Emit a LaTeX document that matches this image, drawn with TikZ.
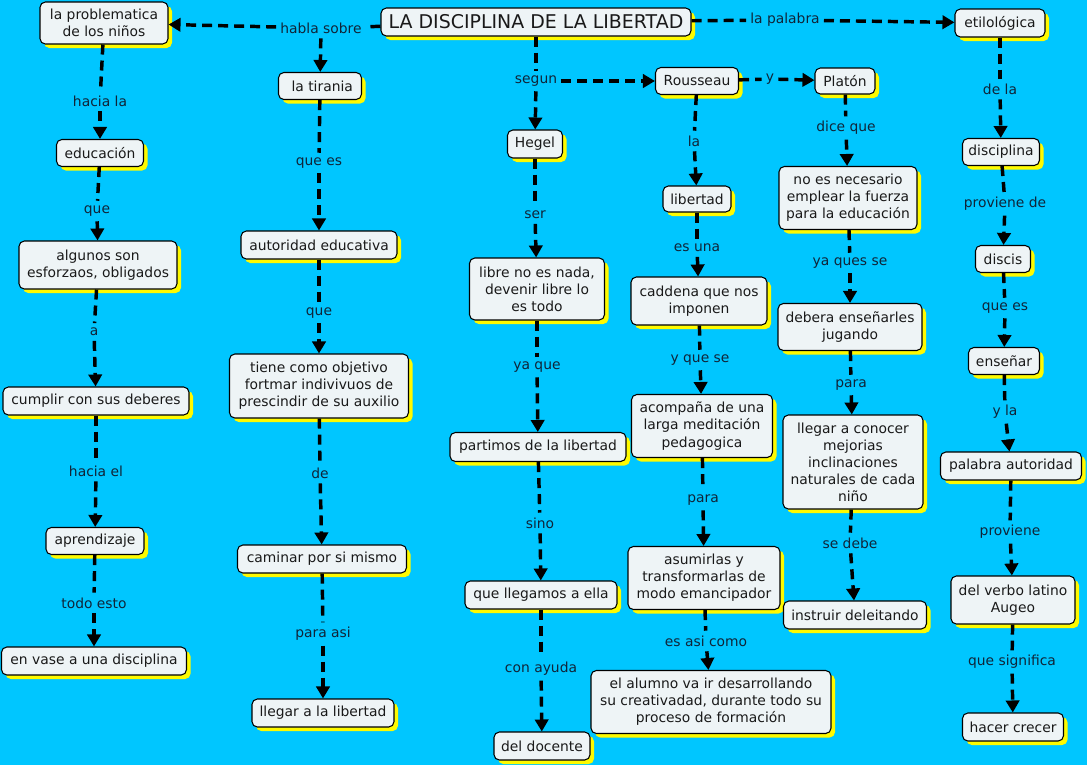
\documentclass[tikz,border=0pt]{standalone}
\usepackage{fontspec}
\setmainfont{DejaVu Sans}
\usetikzlibrary{arrows.meta,shadows}
\definecolor{bg}{RGB}{0,198,255}
\definecolor{nodefill}{RGB}{238,244,246}
\definecolor{labtxt}{RGB}{16,36,56}
\definecolor{shad}{RGB}{255,250,0}
\newcommand\cbx[5]{\node[cbox, minimum width=#3*0.75pt, minimum height=#4*0.75pt] (#1) at #2 {#5};}
\newcommand\clab[3]{\node[lab] (#1) at #2 {#3};}
\begin{document}
\begin{tikzpicture}[x=0.75pt,y=-0.75pt,
 cbox/.style={draw=black, line width=0.8pt, fill=nodefill, rounded corners=4pt, align=center,
   font=\fontsize{10.4}{12.8}\selectfont, text=black!90, inner sep=1pt,
   drop shadow={shadow xshift=3pt, shadow yshift=-3pt, fill=shad, opacity=1}},
 lab/.style={fill=bg, inner xsep=3pt, inner ysep=3.5pt, font=\fontsize{10.4}{12}\selectfont, text=labtxt},
 link/.style={line width=2.6pt, dash pattern=on 7.5pt off 4.5pt},
 arr/.style={link, -{Triangle[length=9pt,width=10pt]}}]
\useasboundingbox (0,0) rectangle (1087,765);
\fill[bg] (0,0) rectangle (1087,765);
% nodes
\cbx{prob}{(104,23)}{128}{42}{la problematica\\de los niños}
\node[cbox, minimum width=310*0.75pt, minimum height=28*0.75pt, font=\fontsize{14.2}{16}\selectfont] (main) at (536,22) {LA DISCIPLINA DE LA LIBERTAD};
\cbx{etil}{(1000,23)}{90}{28}{etilológica}
\cbx{tir}{(320,86)}{83}{27}{\ la tirania}
\cbx{rou}{(697,81)}{83}{27}{Rousseau}
\cbx{pla}{(845,81)}{60}{26}{Platón}
\cbx{heg}{(535,144)}{55}{28}{Hegel}
\cbx{edu}{(100,153)}{87}{27}{educación}
\cbx{dis}{(1001,152)}{77}{27}{disciplina}
\cbx{lib}{(697,199)}{68}{26}{libertad}
\cbx{noes}{(848,198)}{138}{63}{no es necesario\\emplear la fuerza\\para la educación}
\cbx{aut}{(319,245)}{156}{28}{autoridad educativa}
\cbx{alg}{(98,265)}{158}{48}{algunos son\\esforzaos, obligados}
\cbx{discis}{(1003,259)}{55}{27}{discis}
\cbx{libre}{(537,289)}{135}{62}{libre no es nada,\\devenir libre lo\\es todo}
\cbx{cad}{(699,301)}{136}{48}{caddena que nos\\imponen}
\cbx{deb}{(850,327)}{144}{47}{debera enseñarles\\jugando}
\cbx{ens}{(1004,361)}{71}{27}{enseñar}
\cbx{tiene}{(319,386)}{179}{64}{tiene como objetivo\\fortmar indivivuos de\\prescindir de su auxilio}
\cbx{cum}{(96,401)}{186}{28}{cumplir con sus deberes}
\cbx{aco}{(702,426)}{141}{63}{acompaña de una\\larga meditación\\pedagogica}
\cbx{lleg}{(853,462)}{140}{94}{llegar a conocer\\mejorias\\inclinaciones\\naturales de cada\\niño}
\cbx{part}{(538,447)}{176}{29}{partimos de la libertad}
\cbx{pal}{(1011,466)}{141}{28}{palabra autoridad}
\cbx{apr}{(95,541)}{98}{27}{aprendizaje}
\cbx{cam}{(322,559)}{169}{28}{caminar por si mismo}
\cbx{asu}{(704,578)}{152}{63}{asumirlas y\\transformarlas de\\modo emancipador}
\cbx{qll}{(541,595)}{152}{28}{que llegamos a ella}
\cbx{ins}{(855,615)}{143}{28}{instruir deleitando}
\cbx{ver}{(1013,600)}{124}{48}{del verbo latino\\Augeo}
\cbx{env}{(94,661)}{185}{28}{en vase a una disciplina}
\cbx{alu}{(711,702)}{240}{63}{el alumno va ir desarrollando\\su creativadad, durante todo su\\proceso de formación}
\cbx{lll}{(323,713)}{142}{28}{llegar a la libertad}
\cbx{hac}{(1013,727)}{101}{28}{hacer crecer}
\cbx{doc}{(542,746)}{96}{28}{del docente}
% labels
\clab{lhab}{(321,28)}{habla sobre}
\clab{lpal}{(785,20)}{la palabra}
\clab{lseg}{(536,81)}{segun}
\clab{ly}{(770,79)}{y}
\clab{l1}{(100,101)}{hacia la}
\clab{l2}{(97,211)}{que}
\clab{l3}{(94,332)}{a}
\clab{l4}{(96,471)}{hacia el}
\clab{l5}{(94,603)}{todo esto}
\clab{t1}{(319,163)}{que es}
\clab{t2}{(319,313)}{que}
\clab{t3}{(320,473)}{de}
\clab{t4}{(323,634)}{para asi}
\clab{h1}{(535,215)}{ser}
\clab{h2}{(537,367)}{ya que}
\clab{h3}{(540,523)}{sino}
\clab{h4}{(541,669)}{con ayuda}
\clab{r1}{(694,141)}{la}
\clab{r2}{(697,248)}{es una}
\clab{r3}{(700,360)}{y que se}
\clab{r4}{(703,500)}{para}
\clab{r5}{(706,641)}{es asi como}
\clab{p1}{(846,128)}{dice que}
\clab{p2}{(850,263)}{ya ques se}
\clab{p3}{(851,385)}{para}
\clab{p4}{(850,543)}{se debe}
\clab{e1}{(1000,89)}{de la}
\clab{e2}{(1005,204)}{proviene de}
\clab{e3}{(1005,308)}{que es}
\clab{e4}{(1005,412)}{y la}
\clab{e5}{(1010,532)}{proviene}
\clab{e6}{(1012,662)}{que significa}
% top connections
\draw[link] (main) -- (lhab);
\draw[arr] (lhab) -- (prob);
\draw[arr] (lhab) -- (tir);
\draw[link] (main) -- (lpal);
\draw[arr] (lpal) -- (etil);
\draw[link] (main) -- (lseg);
\draw[arr] (lseg) -- (heg);
\draw[arr] (lseg) -- (rou);
\draw[link] (rou) -- (ly);
\draw[arr] (ly) -- (pla);
% column 1
\draw[link] (prob) -- (l1); \draw[arr] (l1) -- (edu);
\draw[link] (edu) -- (l2); \draw[arr] (l2) -- (alg);
\draw[link] (alg) -- (l3); \draw[arr] (l3) -- (cum);
\draw[link] (cum) -- (l4); \draw[arr] (l4) -- (apr);
\draw[link] (apr) -- (l5); \draw[arr] (l5) -- (env);
% column 2
\draw[link] (tir) -- (t1); \draw[arr] (t1) -- (aut);
\draw[link] (aut) -- (t2); \draw[arr] (t2) -- (tiene);
\draw[link] (tiene) -- (t3); \draw[arr] (t3) -- (cam);
\draw[link] (cam) -- (t4); \draw[arr] (t4) -- (lll);
% column 3
\draw[link] (heg) -- (h1); \draw[arr] (h1) -- (libre);
\draw[link] (libre) -- (h2); \draw[arr] (h2) -- (part);
\draw[link] (part) -- (h3); \draw[arr] (h3) -- (qll);
\draw[link] (qll) -- (h4); \draw[arr] (h4) -- (doc);
% column 4
\draw[link] (rou) -- (r1); \draw[arr] (r1) -- (lib);
\draw[link] (lib) -- (r2); \draw[arr] (r2) -- (cad);
\draw[link] (cad) -- (r3); \draw[arr] (r3) -- (aco);
\draw[link] (aco) -- (r4); \draw[arr] (r4) -- (asu);
\draw[link] (asu) -- (r5); \draw[arr] (r5) -- (alu);
% column 5
\draw[link] (pla) -- (p1); \draw[arr] (p1) -- (noes);
\draw[link] (noes) -- (p2); \draw[arr] (p2) -- (deb);
\draw[link] (deb) -- (p3); \draw[arr] (p3) -- (lleg);
\draw[link] (lleg) -- (p4); \draw[arr] (p4) -- (ins);
% column 6
\draw[link] (etil) -- (e1); \draw[arr] (e1) -- (dis);
\draw[link] (dis) -- (e2); \draw[arr] (e2) -- (discis);
\draw[link] (discis) -- (e3); \draw[arr] (e3) -- (ens);
\draw[link] (ens) -- (e4); \draw[arr] (e4) -- (pal);
\draw[link] (pal) -- (e5); \draw[arr] (e5) -- (ver);
\draw[link] (ver) -- (e6); \draw[arr] (e6) -- (hac);
\end{tikzpicture}
\end{document}
